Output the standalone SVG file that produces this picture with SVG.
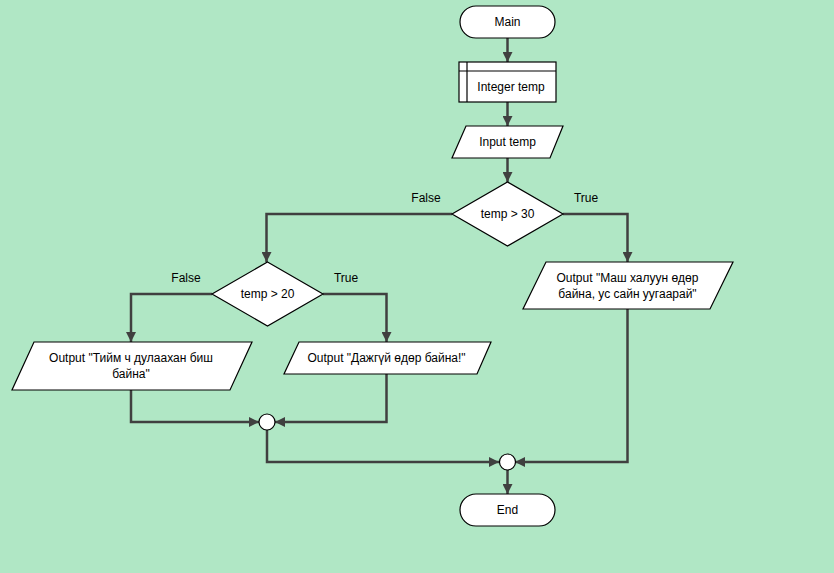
<svg xmlns="http://www.w3.org/2000/svg" width="834" height="573" viewBox="0 0 834 573">
<defs>
<marker id="ah" viewBox="0 0 10 10" refX="10" refY="5" markerWidth="10" markerHeight="10" markerUnits="userSpaceOnUse" orient="auto">
<path d="M0,0 L10,5 L0,10 z" fill="#404040"/>
</marker>
<style>
.shape{fill:#fff;stroke:#000;stroke-width:1.2}
.conn{fill:none;stroke:#404040;stroke-width:2.5;marker-end:url(#ah)}
.line{fill:none;stroke:#404040;stroke-width:2.5}
text{font-family:"Liberation Sans",Arial,sans-serif;font-size:12px;fill:#000;text-anchor:middle;dominant-baseline:central}
</style>
</defs>
<rect width="834" height="573" fill="#b0e7c5"/>
<g id="connectors">
<path class="conn" d="M507.5,38 V62"/>
<path class="conn" d="M507.5,102 V126"/>
<path class="conn" d="M507.5,158 V182"/>
<path class="conn" d="M452,214 H266.5 V262"/>
<path class="conn" d="M563,214 H627.5 V262"/>
<path class="conn" d="M212,294 H131 V342"/>
<path class="conn" d="M323,294 H386.5 V342"/>
<path class="conn" d="M131,390 V422 H259"/>
<path class="conn" d="M386.5,374 V422 H275"/>
<path class="conn" d="M267,430 V462 H499"/>
<path class="conn" d="M627.5,309 V462 H515"/>
<path class="conn" d="M507.5,470 V494"/>
</g>
<g id="main">
<rect class="shape" x="460" y="6" width="95" height="32" rx="16"/>
<text x="507.5" y="22">Main</text>
</g>
<g id="declare">
<rect class="shape" x="459" y="62" width="97" height="40"/>
<line class="shape" x1="467" y1="62" x2="467" y2="102"/>
<line class="shape" x1="459" y1="71" x2="556" y2="71"/>
<text x="511" y="87">Integer temp</text>
</g>
<g id="input">
<polygon class="shape" points="466,126 563,126 550,158 452,158"/>
<text x="507.5" y="142">Input temp</text>
</g>
<g id="dec30">
<polygon class="shape" points="507.5,182 563,214 507.5,246 452,214"/>
<text x="507.5" y="214">temp &gt; 30</text>
<text x="426" y="198">False</text>
<text x="586" y="198">True</text>
</g>
<g id="dec20">
<polygon class="shape" points="267.5,262 323,294 267.5,326 212,294"/>
<text x="267.5" y="294">temp &gt; 20</text>
<text x="186" y="278">False</text>
<text x="346" y="278">True</text>
</g>
<g id="outLeft">
<polygon class="shape" points="34,342 252,342 230,390 12,390"/>
<text x="131" y="358">Output "Тийм ч дулаахан биш</text>
<text x="131" y="374">байна"</text>
</g>
<g id="outMid">
<polygon class="shape" points="299,342 491,342 477,374 284,374"/>
<text x="386.5" y="358">Output "Дажгүй өдөр байна!"</text>
</g>
<g id="outRight">
<polygon class="shape" points="546,262 733,262 710,309 523,309"/>
<text x="627.5" y="278">Output "Маш халуун өдөр</text>
<text x="627.5" y="294">байна, ус сайн уугаарай"</text>
</g>
<g id="join1">
<circle class="shape" cx="267" cy="422" r="8"/>
</g>
<g id="join2">
<circle class="shape" cx="507.5" cy="462" r="8"/>
</g>
<g id="end">
<rect class="shape" x="460" y="494" width="95" height="32" rx="16"/>
<text x="507.5" y="510">End</text>
</g>
</svg>
